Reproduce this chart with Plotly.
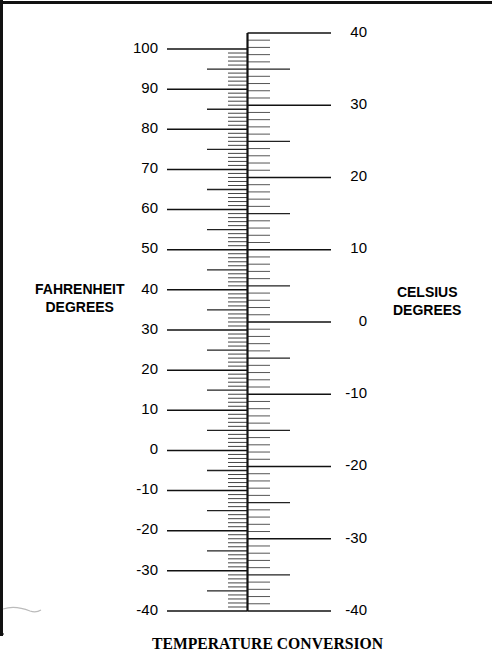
import plotly.graph_objects as go

# ---- data ----
F_LABELS = [100, 90, 80, 70, 60, 50, 40, 30, 20, 10, 0, -10, -20, -30, -40]
C_LABELS = [40, 30, 20, 10, 0, -10, -20, -30, -40]
F_MIN, F_MAX = -40, 100
C_MIN, C_MAX = -40, 40
LEFT_TITLE = "FAHRENHEIT<br>DEGREES"
RIGHT_TITLE = "CELSIUS<br>DEGREES"
BOTTOM_TITLE = "TEMPERATURE CONVERSION"

W, H = 492, 655
# axis ranges (F on y, C on y2, linked by F = 1.8C + 32)
F_RANGE = [-50.96, 112.21]
C_RANGE = [(F_RANGE[0] - 32) / 1.8, (F_RANGE[1] - 32) / 1.8]

AX_X = 247.5


def seg(vals, x0, x1):
    xs, ys = [], []
    for v in vals:
        xs += [x0, x1, None]
        ys += [v, v, None]
    return xs, ys


f_all = list(range(F_MIN, F_MAX + 1))
c_all = list(range(C_MIN, C_MAX + 1))
f_major = [v for v in f_all if v % 10 == 0]
f_mid = [v for v in f_all if v % 5 == 0 and v % 10 != 0]
f_minor = [v for v in f_all if v % 5 != 0]
c_major = [v for v in c_all if v % 10 == 0]
c_mid = [v for v in c_all if v % 5 == 0 and v % 10 != 0]
c_minor = [v for v in c_all if v % 5 != 0]

fig = go.Figure()

def add_ticks(vals, x0, x1, color, width, axis):
    xs, ys = seg(vals, x0, x1)
    fig.add_trace(go.Scatter(x=xs, y=ys, mode="lines", yaxis=axis,
                             line=dict(color=color, width=width),
                             hoverinfo="skip", showlegend=False))

add_ticks(f_minor, 228, AX_X, "#444444", 1, "y")
add_ticks(f_mid, 207, AX_X, "#222222", 1.3, "y")
add_ticks(f_major, 167, AX_X, "#111111", 1.5, "y")
add_ticks(c_minor, AX_X, 270, "#555555", 1, "y2")
add_ticks(c_mid, AX_X, 290, "#222222", 1.3, "y2")
add_ticks(c_major, AX_X, 331, "#111111", 1.5, "y2")

# main vertical scale line
fig.add_trace(go.Scatter(x=[AX_X, AX_X], y=[C_MIN, C_MAX], mode="lines", yaxis="y2",
                         line=dict(color="#111", width=2.2),
                         hoverinfo="skip", showlegend=False))

LABEL_FONT = dict(family="Liberation Sans, Arial", size=15, color="#000")

# labels
fig.add_trace(go.Scatter(x=[158] * len(F_LABELS), y=F_LABELS, mode="text",
                         text=[str(v) for v in F_LABELS], textposition="middle left",
                         textfont=LABEL_FONT, hoverinfo="skip", showlegend=False))
fig.add_trace(go.Scatter(x=[367] * len(C_LABELS), y=C_LABELS, mode="text", yaxis="y2",
                         text=[str(v) for v in C_LABELS], textposition="middle left",
                         textfont=LABEL_FONT, hoverinfo="skip", showlegend=False))

def py(p):
    return 1 - p / H

fig.add_annotation(x=80, y=py(298), xref="x", yref="paper", text="<b>" + LEFT_TITLE + "</b>",
                   showarrow=False, align="center",
                   font=dict(family="Liberation Sans, Arial", size=14, color="#000"))
fig.add_annotation(x=427, y=py(301), xref="x", yref="paper", text="<b>" + RIGHT_TITLE + "</b>",
                   showarrow=False, align="center",
                   font=dict(family="Liberation Sans, Arial", size=14, color="#000"))
fig.add_annotation(x=268, y=0, xref="x", yref="paper", yanchor="bottom", yshift=1,
                   text="<b>" + BOTTOM_TITLE + "</b>",
                   showarrow=False, align="center",
                   font=dict(family="Liberation Serif, Times New Roman", size=15.7, color="#000"))

# frame (scan border)
fig.add_shape(type="line", xref="x", yref="paper", x0=1.5, x1=1.5, y0=py(0), y1=py(636),
              line=dict(color="#111", width=3))
fig.add_shape(type="line", xref="x", yref="paper", x0=0, x1=W, y0=py(2.5), y1=py(2.5),
              line=dict(color="#111", width=3))
fig.add_shape(type="line", xref="x", yref="paper", x0=0, x1=4, y0=py(634), y1=py(634),
              line=dict(color="#111", width=1))
# faint scan smudge bottom-left
fig.add_shape(type="path", xref="x", yref="paper",
              path=f"M 3 {py(609)} Q 15 {py(605)} 30 {py(611)} Q 36 {py(613)} 41 {py(610)}",
              line=dict(color="#bbbbbb", width=1.2))

fig.update_layout(
    width=W, height=H,
    margin=dict(l=0, r=0, t=0, b=0),
    paper_bgcolor="white", plot_bgcolor="white",
    xaxis=dict(range=[0, W], visible=False, fixedrange=True),
    yaxis=dict(range=F_RANGE, visible=False, fixedrange=True),
    yaxis2=dict(range=C_RANGE, visible=False, overlaying="y", fixedrange=True),
    showlegend=False,
)

fig.write_html("out.html", config={"displayModeBar": False},
               post_script="document.body.style.margin='0';document.body.style.overflow='hidden';")
